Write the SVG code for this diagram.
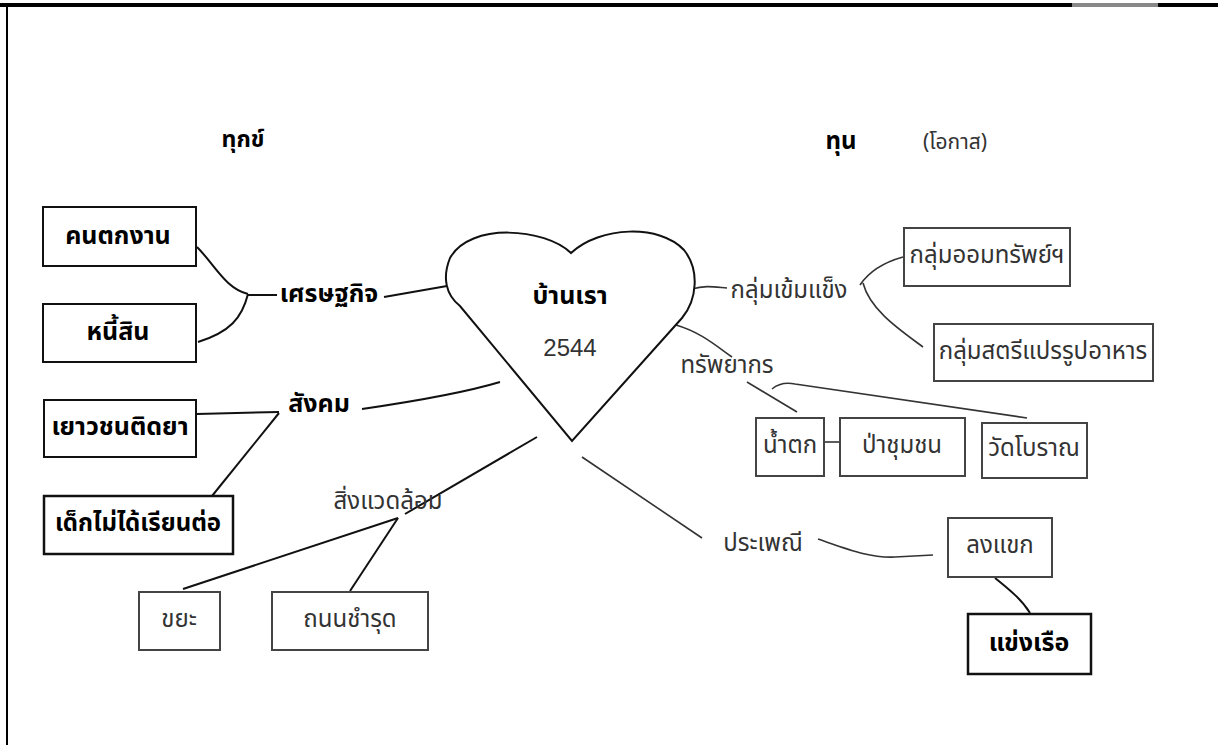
<svg xmlns="http://www.w3.org/2000/svg" width="1218" height="745" viewBox="0 0 1218 745">
<style>
text{font-family:"Noto Sans Thai","Noto Sans","DejaVu Sans",sans-serif;dominant-baseline:central;text-anchor:middle}
.b{font-weight:bold;fill:#000;font-size:25px}
.g{fill:#333;font-size:24px}
.bx{fill:#fff;stroke:#111;stroke-width:2}
.gx{fill:#fff;stroke:#444;stroke-width:2}
.c{fill:none;stroke:#111;stroke-width:2}
.cg{fill:none;stroke:#333;stroke-width:1.6}
</style>
<rect width="1218" height="745" fill="#fff"/>
<g id="frame">
<rect x="0" y="3" width="1218" height="4" fill="#000"/>
<rect x="1072" y="3" width="86" height="4" fill="#888"/>
<rect x="6" y="6" width="2" height="739" fill="#000"/>
</g>
<g id="connectors">
<path class="c" d="M197 247 C215 265 225 288 248 294"/>
<path class="c" d="M198 342 C230 332 242 318 248 294"/>
<path class="c" d="M248 295 L277 295"/>
<path class="c" d="M384 297 L447 286"/>
<path class="c" d="M197 414 L279 412"/>
<path class="c" d="M279 413 L212 496"/>
<path class="c" d="M362 409 C410 402 460 394 500 382"/>
<path class="c" d="M537 437 L405 514"/>
<path class="c" d="M398 518 L183 589"/>
<path class="c" d="M398 518 L350 591"/>
<path class="cg" d="M582 457 L702 538"/>
<path class="cg" d="M818 539 C850 550 870 558 895 557 L933 555"/>
<path class="c" d="M995 578 C1010 590 1022 600 1030 613"/>
<path class="cg" d="M692 289 C705 285 715 287 727 288"/>
<path class="cg" d="M903 257 C885 262 870 270 860 285"/>
<path class="cg" d="M863 283 C870 310 900 330 923 347"/>
<path class="cg" d="M676 325 C700 332 715 345 732 357"/>
<path class="cg" d="M747 382 L797 412"/>
<path class="cg" d="M772 389 C778 384 785 382 795 384 L1027 418"/>
<path class="cg" d="M824 442 L840 442"/>
</g>
<g id="heart">
<path fill="#fff" stroke="#111" stroke-width="2" d="M571 253 C545 228 470 222 450 258 C442 278 446 295 460 306 L572 441 L682 318 C697 300 700 270 684 250 C660 224 600 226 571 253 Z"/>
<text class="b" x="570" y="296">บ้านเรา</text>
<text class="g" x="570" y="347" style="font-family:'Liberation Sans',sans-serif;font-size:24px">2544</text>
</g>
<g id="title-tuk"><text class="b" x="243" y="140" style="font-size:23px">ทุกข์</text></g>
<g id="title-tun"><text class="b" x="841" y="142" style="font-size:24px">ทุน</text></g>
<g id="title-okat"><text class="g" x="955" y="142" style="font-size:21px">(โอกาส)</text></g>
<g id="n-khontokngan"><rect class="bx" x="43" y="207" width="153" height="59"/><text class="b" x="118" y="236">คนตกงาน</text></g>
<g id="n-nisin"><rect class="bx" x="43" y="304" width="153" height="58"/><text class="b" x="118" y="332">หนี้สิน</text></g>
<g id="n-yaowachon"><rect class="bx" x="44" y="400" width="152" height="57"/><text class="b" x="120" y="427">เยาวชนติดยา</text></g>
<g id="n-dek"><rect class="bx" x="44" y="496" width="189" height="58" style="stroke-width:2.5"/><text class="b" x="138" y="524" style="font-size:24px">เด็กไม่ได้เรียนต่อ</text></g>
<g id="n-khaya"><rect class="gx" x="139" y="592" width="81" height="58"/><text class="g" x="179" y="620">ขยะ</text></g>
<g id="n-thanon"><rect class="gx" x="272" y="592" width="156" height="58"/><text class="g" x="350" y="620">ถนนชำรุด</text></g>
<g id="l-setthakit"><text class="b" x="329" y="294">เศรษฐกิจ</text></g>
<g id="l-sangkhom"><text class="b" x="319" y="404">สังคม</text></g>
<g id="l-singwaetlom"><text class="g" x="388" y="502">สิ่งแวดล้อม</text></g>
<g id="l-klumkhemkhaeng"><text class="g" x="789" y="291">กลุ่มเข้มแข็ง</text></g>
<g id="l-sapphayakon"><text class="g" x="727" y="366">ทรัพยากร</text></g>
<g id="l-prapheni"><text class="g" x="763" y="544">ประเพณี</text></g>
<g id="n-klumom"><rect class="gx" x="904" y="228" width="166" height="58"/><text class="g" x="987" y="256">กลุ่มออมทรัพย์ฯ</text></g>
<g id="n-klumsatri"><rect class="gx" x="934" y="324" width="219" height="57"/><text class="g" x="1043" y="352">กลุ่มสตรีแปรรูปอาหาร</text></g>
<g id="n-namtok"><rect class="gx" x="756" y="418" width="68" height="58"/><text class="g" x="790" y="446">น้ำตก</text></g>
<g id="n-pachumchon"><rect class="gx" x="840" y="418" width="125" height="58"/><text class="g" x="902" y="446">ป่าชุมชน</text></g>
<g id="n-wat"><rect class="gx" x="982" y="423" width="105" height="55"/><text class="g" x="1034" y="449">วัดโบราณ</text></g>
<g id="n-longkhaek"><rect class="gx" x="948" y="518" width="104" height="59"/><text class="g" x="1000" y="546">ลงแขก</text></g>
<g id="n-khaengruea"><rect class="bx" x="968" y="614" width="123" height="60" style="stroke-width:2.5"/><text class="b" x="1029" y="643">แข่งเรือ</text></g>
</svg>
